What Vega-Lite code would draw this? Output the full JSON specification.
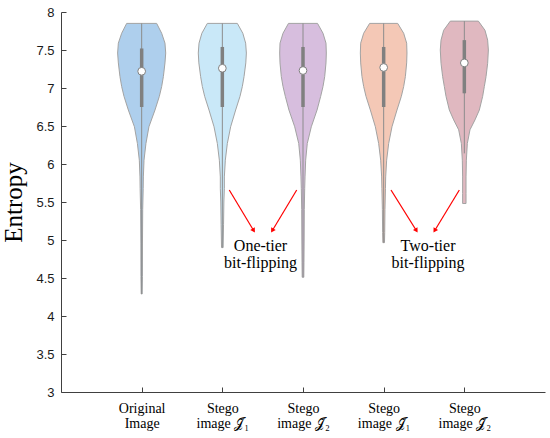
{
  "$schema": "https://vega.github.io/schema/vega-lite/v6.json",
  "width": 484,
  "height": 380,
  "autosize": {"type": "none"},
  "padding": {"left": 61, "top": 12, "right": 5, "bottom": 46},
  "background": "white",
  "config": {
    "view": {"stroke": null},
    "axis": {"grid": false, "domainColor": "#404040", "tickColor": "#404040", "labelColor": "#1a1a1a"}
  },
  "datasets": {
    "violin": [
      {"name": "Original", "g": 1, "e": 7.85, "w": 0.186},
      {"name": "Original", "g": 1, "e": 7.72, "w": 0.248},
      {"name": "Original", "g": 1, "e": 7.59, "w": 0.289},
      {"name": "Original", "g": 1, "e": 7.46, "w": 0.298},
      {"name": "Original", "g": 1, "e": 7.33, "w": 0.289},
      {"name": "Original", "g": 1, "e": 7.15, "w": 0.269},
      {"name": "Original", "g": 1, "e": 7.02, "w": 0.248},
      {"name": "Original", "g": 1, "e": 6.89, "w": 0.219},
      {"name": "Original", "g": 1, "e": 6.71, "w": 0.165},
      {"name": "Original", "g": 1, "e": 6.49, "w": 0.090},
      {"name": "Original", "g": 1, "e": 6.27, "w": 0.053},
      {"name": "Original", "g": 1, "e": 6.05, "w": 0.029},
      {"name": "Original", "g": 1, "e": 5.83, "w": 0.021},
      {"name": "Original", "g": 1, "e": 5.68, "w": 0.019},
      {"name": "Original", "g": 1, "e": 5.40, "w": 0.013},
      {"name": "Original", "g": 1, "e": 4.96, "w": 0.010},
      {"name": "Original", "g": 1, "e": 4.52, "w": 0.009},
      {"name": "Original", "g": 1, "e": 4.29, "w": 0.006},

      {"name": "One-tier J1", "g": 2, "e": 7.85, "w": 0.186},
      {"name": "One-tier J1", "g": 2, "e": 7.72, "w": 0.254},
      {"name": "One-tier J1", "g": 2, "e": 7.59, "w": 0.289},
      {"name": "One-tier J1", "g": 2, "e": 7.46, "w": 0.298},
      {"name": "One-tier J1", "g": 2, "e": 7.33, "w": 0.291},
      {"name": "One-tier J1", "g": 2, "e": 7.15, "w": 0.269},
      {"name": "One-tier J1", "g": 2, "e": 7.02, "w": 0.248},
      {"name": "One-tier J1", "g": 2, "e": 6.89, "w": 0.219},
      {"name": "One-tier J1", "g": 2, "e": 6.71, "w": 0.165},
      {"name": "One-tier J1", "g": 2, "e": 6.49, "w": 0.103},
      {"name": "One-tier J1", "g": 2, "e": 6.27, "w": 0.062},
      {"name": "One-tier J1", "g": 2, "e": 6.05, "w": 0.037},
      {"name": "One-tier J1", "g": 2, "e": 5.83, "w": 0.025},
      {"name": "One-tier J1", "g": 2, "e": 5.68, "w": 0.025},
      {"name": "One-tier J1", "g": 2, "e": 5.50, "w": 0.019},
      {"name": "One-tier J1", "g": 2, "e": 5.20, "w": 0.015},
      {"name": "One-tier J1", "g": 2, "e": 4.90, "w": 0.010},

      {"name": "One-tier J2", "g": 3, "e": 7.85, "w": 0.180},
      {"name": "One-tier J2", "g": 3, "e": 7.72, "w": 0.248},
      {"name": "One-tier J2", "g": 3, "e": 7.59, "w": 0.285},
      {"name": "One-tier J2", "g": 3, "e": 7.46, "w": 0.289},
      {"name": "One-tier J2", "g": 3, "e": 7.33, "w": 0.285},
      {"name": "One-tier J2", "g": 3, "e": 7.15, "w": 0.269},
      {"name": "One-tier J2", "g": 3, "e": 7.02, "w": 0.248},
      {"name": "One-tier J2", "g": 3, "e": 6.89, "w": 0.219},
      {"name": "One-tier J2", "g": 3, "e": 6.71, "w": 0.174},
      {"name": "One-tier J2", "g": 3, "e": 6.49, "w": 0.103},
      {"name": "One-tier J2", "g": 3, "e": 6.27, "w": 0.053},
      {"name": "One-tier J2", "g": 3, "e": 6.05, "w": 0.033},
      {"name": "One-tier J2", "g": 3, "e": 5.83, "w": 0.025},
      {"name": "One-tier J2", "g": 3, "e": 5.68, "w": 0.021},
      {"name": "One-tier J2", "g": 3, "e": 5.40, "w": 0.016},
      {"name": "One-tier J2", "g": 3, "e": 5.00, "w": 0.014},
      {"name": "One-tier J2", "g": 3, "e": 4.70, "w": 0.012},
      {"name": "One-tier J2", "g": 3, "e": 4.51, "w": 0.010},

      {"name": "Two-tier J1", "g": 4, "e": 7.85, "w": 0.174},
      {"name": "Two-tier J1", "g": 4, "e": 7.72, "w": 0.248},
      {"name": "Two-tier J1", "g": 4, "e": 7.59, "w": 0.285},
      {"name": "Two-tier J1", "g": 4, "e": 7.46, "w": 0.289},
      {"name": "Two-tier J1", "g": 4, "e": 7.33, "w": 0.285},
      {"name": "Two-tier J1", "g": 4, "e": 7.15, "w": 0.269},
      {"name": "Two-tier J1", "g": 4, "e": 7.02, "w": 0.248},
      {"name": "Two-tier J1", "g": 4, "e": 6.89, "w": 0.219},
      {"name": "Two-tier J1", "g": 4, "e": 6.71, "w": 0.165},
      {"name": "Two-tier J1", "g": 4, "e": 6.49, "w": 0.103},
      {"name": "Two-tier J1", "g": 4, "e": 6.27, "w": 0.062},
      {"name": "Two-tier J1", "g": 4, "e": 6.05, "w": 0.037},
      {"name": "Two-tier J1", "g": 4, "e": 5.83, "w": 0.025},
      {"name": "Two-tier J1", "g": 4, "e": 5.68, "w": 0.022},
      {"name": "Two-tier J1", "g": 4, "e": 5.40, "w": 0.016},
      {"name": "Two-tier J1", "g": 4, "e": 5.10, "w": 0.013},
      {"name": "Two-tier J1", "g": 4, "e": 4.965, "w": 0.010},

      {"name": "Two-tier J2", "g": 5, "e": 7.88, "w": 0.174},
      {"name": "Two-tier J2", "g": 5, "e": 7.76, "w": 0.256},
      {"name": "Two-tier J2", "g": 5, "e": 7.63, "w": 0.289},
      {"name": "Two-tier J2", "g": 5, "e": 7.50, "w": 0.298},
      {"name": "Two-tier J2", "g": 5, "e": 7.325, "w": 0.289},
      {"name": "Two-tier J2", "g": 5, "e": 7.15, "w": 0.269},
      {"name": "Two-tier J2", "g": 5, "e": 7.02, "w": 0.248},
      {"name": "Two-tier J2", "g": 5, "e": 6.89, "w": 0.227},
      {"name": "Two-tier J2", "g": 5, "e": 6.71, "w": 0.186},
      {"name": "Two-tier J2", "g": 5, "e": 6.58, "w": 0.132},
      {"name": "Two-tier J2", "g": 5, "e": 6.45, "w": 0.070},
      {"name": "Two-tier J2", "g": 5, "e": 6.27, "w": 0.037},
      {"name": "Two-tier J2", "g": 5, "e": 6.05, "w": 0.025},
      {"name": "Two-tier J2", "g": 5, "e": 5.83, "w": 0.021},
      {"name": "Two-tier J2", "g": 5, "e": 5.61, "w": 0.021},
      {"name": "Two-tier J2", "g": 5, "e": 5.48, "w": 0.021}
    ],
    "stats": [
      {"name": "Original", "g": 1, "q1": 6.75, "q3": 7.52, "med": 7.22, "wlo": 4.29, "whi": 7.85},
      {"name": "One-tier J1", "g": 2, "q1": 6.75, "q3": 7.54, "med": 7.26, "wlo": 4.90, "whi": 7.85},
      {"name": "One-tier J2", "g": 3, "q1": 6.75, "q3": 7.54, "med": 7.23, "wlo": 4.51, "whi": 7.85},
      {"name": "Two-tier J1", "g": 4, "q1": 6.75, "q3": 7.54, "med": 7.27, "wlo": 4.965, "whi": 7.85},
      {"name": "Two-tier J2", "g": 5, "q1": 6.93, "q3": 7.63, "med": 7.33, "wlo": 6.14, "whi": 7.88}
    ],
    "arrows": [
      {"dir": "r", "x1": 2.086, "y1": 5.658, "x2": 2.384, "y2": 5.132},
      {"dir": "l", "x1": 2.922, "y1": 5.658, "x2": 2.624, "y2": 5.132},
      {"dir": "r", "x1": 4.091, "y1": 5.658, "x2": 4.401, "y2": 5.132},
      {"dir": "l", "x1": 4.938, "y1": 5.658, "x2": 4.637, "y2": 5.132}
    ],
    "notes": [
      {"x": 2.473, "y": 4.86, "label": "One-tier\nbit-flipping"},
      {"x": 4.55, "y": 4.86, "label": "Two-tier\nbit-flipping"}
    ]
  },
  "layer": [
    {
      "data": {"name": "violin"},
      "transform": [
        {"calculate": "datum.g - datum.w", "as": "lo"},
        {"calculate": "datum.g + datum.w", "as": "hi"}
      ],
      "mark": {"type": "area", "orient": "horizontal", "stroke": "#a3a3a3", "strokeWidth": 1, "opacity": 1},
      "encoding": {
        "y": {
          "field": "e", "type": "quantitative",
          "scale": {"domain": [3, 8], "nice": false, "zero": false},
          "axis": {
            "title": "Entropy",
            "values": [3, 3.5, 4, 4.5, 5, 5.5, 6, 6.5, 7, 7.5, 8],
            "tickCount": 11,
            "labelOverlap": false,
            "labelExpr": "format(datum.value, '~g')",
            "tickSize": -5,
            "labelPadding": 12,
            "labelFont": "Liberation Sans",
            "labelFontSize": 13,
            "titleFont": "Liberation Serif",
            "titleFontSize": 25,
            "titleFontWeight": "normal",
            "titleColor": "#000000",
            "titleAngle": -90,
            "titleX": -40,
            "titleY": 190,
            "titleAlign": "center",
            "titleBaseline": "alphabetic"
          }
        },
        "x": {
          "field": "lo", "type": "quantitative",
          "scale": {"domain": [0, 6], "nice": false, "zero": false},
          "axis": {
            "title": null,
            "values": [1, 2, 3, 4, 5],
            "labelOverlap": false,
            "labelExpr": "datum.value == 1 ? ['Original', 'Image'] : datum.value == 2 ? ['Stego', 'image 𝒥̌₁'] : datum.value == 3 ? ['Stego', 'image 𝒥̌₂'] : datum.value == 4 ? ['Stego', 'image 𝒥̌₁'] : ['Stego', 'image 𝒥̌₂']",
            "tickSize": -5,
            "labelPadding": 14,
            "labelBaseline": "top",
            "labelLineHeight": 15,
            "labelFont": "Liberation Serif",
            "labelFontSize": 14,
            "labelColor": "#000000"
          }
        },
        "x2": {"field": "hi"},
        "color": {
          "field": "name", "type": "nominal",
          "scale": {
            "domain": ["Original", "One-tier J1", "One-tier J2", "Two-tier J1", "Two-tier J2"],
            "range": ["#aecfed", "#c9e8f8", "#d7bede", "#f4c8b6", "#e0b8c0"]
          },
          "legend": null
        }
      }
    },
    {
      "data": {"name": "stats"},
      "mark": {"type": "rule", "color": "#8c8c8c", "strokeWidth": 1},
      "encoding": {
        "x": {"field": "g", "type": "quantitative"},
        "y": {"field": "wlo", "type": "quantitative"},
        "y2": {"field": "whi"}
      }
    },
    {
      "data": {"name": "stats"},
      "mark": {"type": "rule", "color": "#808080", "strokeWidth": 3.5},
      "encoding": {
        "x": {"field": "g", "type": "quantitative"},
        "y": {"field": "q1", "type": "quantitative"},
        "y2": {"field": "q3"}
      }
    },
    {
      "data": {"name": "stats"},
      "mark": {"type": "point", "shape": "circle", "filled": true, "fill": "#ffffff", "stroke": "#808080", "strokeWidth": 1, "size": 60, "opacity": 1},
      "encoding": {
        "x": {"field": "g", "type": "quantitative"},
        "y": {"field": "med", "type": "quantitative"}
      }
    },
    {
      "data": {"name": "arrows"},
      "mark": {"type": "rule", "color": "#ff0000", "strokeWidth": 1.2},
      "encoding": {
        "x": {"field": "x1", "type": "quantitative"},
        "y": {"field": "y1", "type": "quantitative"},
        "x2": {"field": "x2"},
        "y2": {"field": "y2"}
      }
    },
    {
      "data": {"name": "arrows"},
      "transform": [{"filter": "datum.dir == 'r'"}],
      "mark": {"type": "point", "shape": "triangle", "filled": true, "color": "#ff0000", "size": 28, "angle": 149, "opacity": 1},
      "encoding": {
        "x": {"field": "x2", "type": "quantitative"},
        "y": {"field": "y2", "type": "quantitative"}
      }
    },
    {
      "data": {"name": "arrows"},
      "transform": [{"filter": "datum.dir == 'l'"}],
      "mark": {"type": "point", "shape": "triangle", "filled": true, "color": "#ff0000", "size": 28, "angle": 211, "opacity": 1},
      "encoding": {
        "x": {"field": "x2", "type": "quantitative"},
        "y": {"field": "y2", "type": "quantitative"}
      }
    },
    {
      "data": {"name": "notes"},
      "mark": {"type": "text", "font": "Liberation Serif", "fontSize": 16, "color": "#000000", "align": "center", "baseline": "alphabetic", "lineBreak": "\n", "lineHeight": 17.5},
      "encoding": {
        "x": {"field": "x", "type": "quantitative"},
        "y": {"field": "y", "type": "quantitative"},
        "text": {"field": "label"}
      }
    }
  ]
}
